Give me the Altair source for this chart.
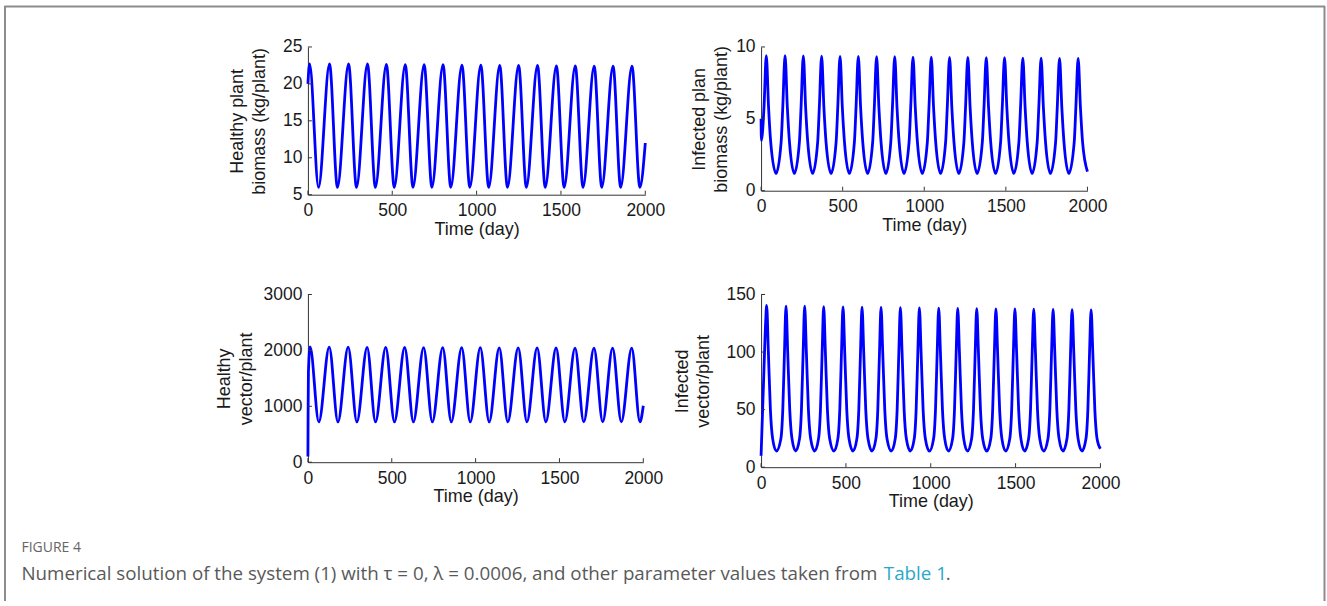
import altair as alt
import pandas as pd

FONT = "Liberation Sans"
X_TICKS = [0, 500, 1000, 1500, 2000]

# ---- Panel A: healthy plant biomass (peaks / troughs)
A_t = [0, 10, 63, 128, 175, 241, 288, 353, 400, 465, 512, 577, 623, 689, 735,
       801, 847, 913, 960, 1025, 1072, 1137, 1183, 1249, 1295, 1361, 1407,
       1473, 1519, 1585, 1631, 1697, 1742, 1809, 1854, 1921, 1968, 2000]
A_y = [20.0, 22.7, 6.0, 22.7, 6.0, 22.7, 6.0, 22.7, 6.0, 22.65, 6.0, 22.6, 6.0,
       22.6, 6.0, 22.6, 6.0, 22.55, 6.0, 22.55, 6.0, 22.5, 6.0, 22.5, 6.0,
       22.5, 6.0, 22.45, 6.0, 22.45, 6.0, 22.4, 6.0, 22.4, 6.0, 22.4, 6.0, 12.0]
A_ticks = [5, 10, 15, 20, 25]

# ---- Panel B: infected plant biomass
B_start = [(0, 5.0), (2, 3.5), (18, 5.8)]
B_peak_t = [32, 147, 259, 371, 484, 596, 708, 819, 931, 1043, 1155, 1267,
            1380, 1492, 1604, 1716, 1829, 1943]
B_peak_v = [9.4, 9.4, 9.38, 9.37, 9.35, 9.35, 9.33, 9.32, 9.3, 9.3, 9.28,
            9.27, 9.25, 9.25, 9.23, 9.22, 9.2, 9.2]
B_trough_t = [92, 204, 316, 429, 541, 653, 765, 876, 988, 1100, 1212, 1324,
              1437, 1549, 1661, 1773, 1886]
B_trough_v = [1.2] * 17
B_after = [(14, 5.8), (27, 3.4)]
B_before = [(-24, 3.4), (-14, 5.8)]
B_end = [(2000, 1.33)]
B_ticks = [0, 5, 10]

# ---- Panel C: healthy vector per plant
C_t = [0, 1, 3, 13, 65, 127, 179, 240, 292, 353, 403, 464, 516, 577, 629, 690,
       742, 804, 855, 917, 968, 1028, 1081, 1141, 1192, 1254, 1306, 1367,
       1419, 1480, 1532, 1593, 1645, 1706, 1758, 1817, 1869, 1931, 1980, 2000]
C_y = [100, 800, 1600, 2065, 720, 2060, 720, 2058, 720, 2055, 720, 2055, 720,
       2052, 720, 2050, 720, 2050, 720, 2048, 720, 2048, 720, 2046, 720, 2045,
       720, 2045, 720, 2043, 720, 2042, 720, 2042, 720, 2040, 720, 2040, 720,
       1010]
C_ticks = [0, 1000, 2000, 3000]

# ---- Panel D: infected vector per plant
D_start = [(0, 10), (16, 80), (27, 126)]
D_peak_t = [33, 147, 257, 369, 483, 595, 707, 821, 933, 1047, 1159, 1271,
            1384, 1496, 1607, 1721, 1833, 1945]
D_peak_v = [140.5, 140, 139.8, 139.5, 139.3, 139, 138.8, 138.6, 138.4, 138.2,
            138, 137.8, 137.6, 137.4, 137.2, 137, 136.8, 136.6]
D_trough_t = [90, 204, 316, 430, 542, 654, 768, 880, 992, 1104, 1216, 1330,
              1441, 1553, 1665, 1779, 1891]
D_trough_v = [14] * 17
D_after = [(10, 100), (22, 50), (35, 25)]
D_before = [(-30, 25), (-19, 50), (-9, 100)]
D_end = [(2000, 16)]
D_ticks = [0, 50, 100, 150]


def build(start, pt, pv, tt, tv, after, before, end):
    pts = list(start)
    for i, (p, v) in enumerate(zip(pt, pv)):
        if i > 0:
            pts += [(p + o, val) for o, val in before]
        pts.append((p, v))
        pts += [(p + o, val) for o, val in after]
        if i < len(tt):
            pts.append((tt[i], tv[i]))
    pts += end
    pts.sort()
    return pd.DataFrame(pts, columns=["t", "y"])


dfA = pd.DataFrame({"t": A_t, "y": A_y})
dfB = build(B_start, B_peak_t, B_peak_v, B_trough_t, B_trough_v, B_after, B_before, B_end)
dfC = pd.DataFrame({"t": C_t, "y": C_y})
dfD = build(D_start, D_peak_t, D_peak_v, D_trough_t, D_trough_v, D_after, D_before, D_end)

AX = dict(domainColor="#333333", domainWidth=1, ticks=False, labelFont=FONT,
          labelFontSize=17.5, labelColor="#1a1a1a", titleFont=FONT,
          titleFontSize=18, titleFontWeight="normal", titleColor="#1a1a1a",
          labelOverlap=False, labelFlush=False, grid=False, format="d")


def panel(df, w, h, ydom, yticks, ytitle, title_pad):
    xs = alt.Scale(domain=[0, 2000], nice=False, zero=False)
    ys = alt.Scale(domain=ydom, nice=False, zero=False)
    xenc = alt.X("t:Q", scale=xs, title="Time (day)",
                 axis=alt.Axis(values=X_TICKS, labelPadding=7, titlePadding=1, **AX))
    yenc = alt.Y("y:Q", scale=ys, title=ytitle,
                 axis=alt.Axis(values=yticks, labelPadding=6, titlePadding=title_pad,
                               titleLineHeight=22, **AX))
    line = alt.Chart(df).mark_line(color="#0000ff", strokeWidth=2.8,
                                   interpolate="monotone").encode(x=xenc, y=yenc)
    xt = alt.Chart(pd.DataFrame({"t": X_TICKS})).mark_rule(
        color="#333333", strokeWidth=1).encode(
        x=xenc, y=alt.value(h), y2=alt.value(h - 4))
    yt = alt.Chart(pd.DataFrame({"y": yticks})).mark_rule(
        color="#333333", strokeWidth=1).encode(
        y=yenc, x=alt.value(0), x2=alt.value(4))
    return alt.layer(line, xt, yt).properties(width=w, height=h)


# ---- frame and caption, positioned relative to panel A's plot origin (307, 45)
OX, OY = 307, 45
frame = alt.Chart(pd.DataFrame({"k": [0]}))
border_left = frame.mark_rule(color="#8c8c8c", strokeWidth=2).encode(
    x=alt.value(3.5 - OX), y=alt.value(4 - OY), y2=alt.value(600 - OY))
border_top = frame.mark_rule(color="#8c8c8c", strokeWidth=2).encode(
    x=alt.value(3 - OX), x2=alt.value(1326 - OX), y=alt.value(4.5 - OY))
border_right = frame.mark_rule(color="#8c8c8c", strokeWidth=2).encode(
    x=alt.value(1325.5 - OX), y=alt.value(4 - OY), y2=alt.value(600 - OY))

CAP_LABEL = "FIGURE 4"
CAP_TEXT = "Numerical solution of the system (1) with \u03c4 = 0, \u03bb = 0.0006, and other parameter values taken from"
CAP_LINK = "Table 1"
CAP_FONT = "Open Sans"
CAP_SIZE = 18.8
cap1 = frame.mark_text(text=CAP_LABEL, font=CAP_FONT, fontSize=14, color="#666666",
                       align="left", baseline="alphabetic").encode(
    x=alt.value(20 - OX), y=alt.value(551 - OY))
cap2 = frame.mark_text(text=CAP_TEXT, font=CAP_FONT, fontSize=CAP_SIZE, color="#595959",
                       align="left", baseline="alphabetic").encode(
    x=alt.value(20 - OX), y=alt.value(579 - OY))
cap3 = frame.mark_text(text=CAP_LINK, font=CAP_FONT, fontSize=CAP_SIZE, color="#2aa7c9",
                       align="left", baseline="alphabetic").encode(
    x=alt.value(884 - OX), y=alt.value(579 - OY))
cap4 = frame.mark_text(text=".", font=CAP_FONT, fontSize=CAP_SIZE, color="#595959",
                       align="left", baseline="alphabetic").encode(
    x=alt.value(946 - OX), y=alt.value(579 - OY))

pA = panel(dfA, 338, 148, [5, 25], A_ticks, ["Healthy plant", "biomass (kg/plant)"], 14)
pA = alt.layer(pA, border_left, border_top, border_right, cap1, cap2, cap3, cap4)
pB = panel(dfB, 327, 144, [0, 10], B_ticks, ["Infected plan", "biomass (kg/plant)"], 5)
pC = panel(dfC, 336, 168, [0, 3000], C_ticks, ["Healthy", "vector/plant"], 8)
pD = panel(dfD, 340, 173, [0, 150], D_ticks, ["Infected", "vector/plant"], 13)

chart = alt.concat(pA, pB, pC, pD, columns=2,
                   spacing={"row": 100, "column": 116},
                   bounds="flush", align="none").properties(
    padding={"left": 2.5, "top": 3.5, "right": 0, "bottom": 0},
    background="white",
).configure_view(stroke="transparent")

chart.save("out.html", embed_options={"renderer": "svg", "actions": False})
